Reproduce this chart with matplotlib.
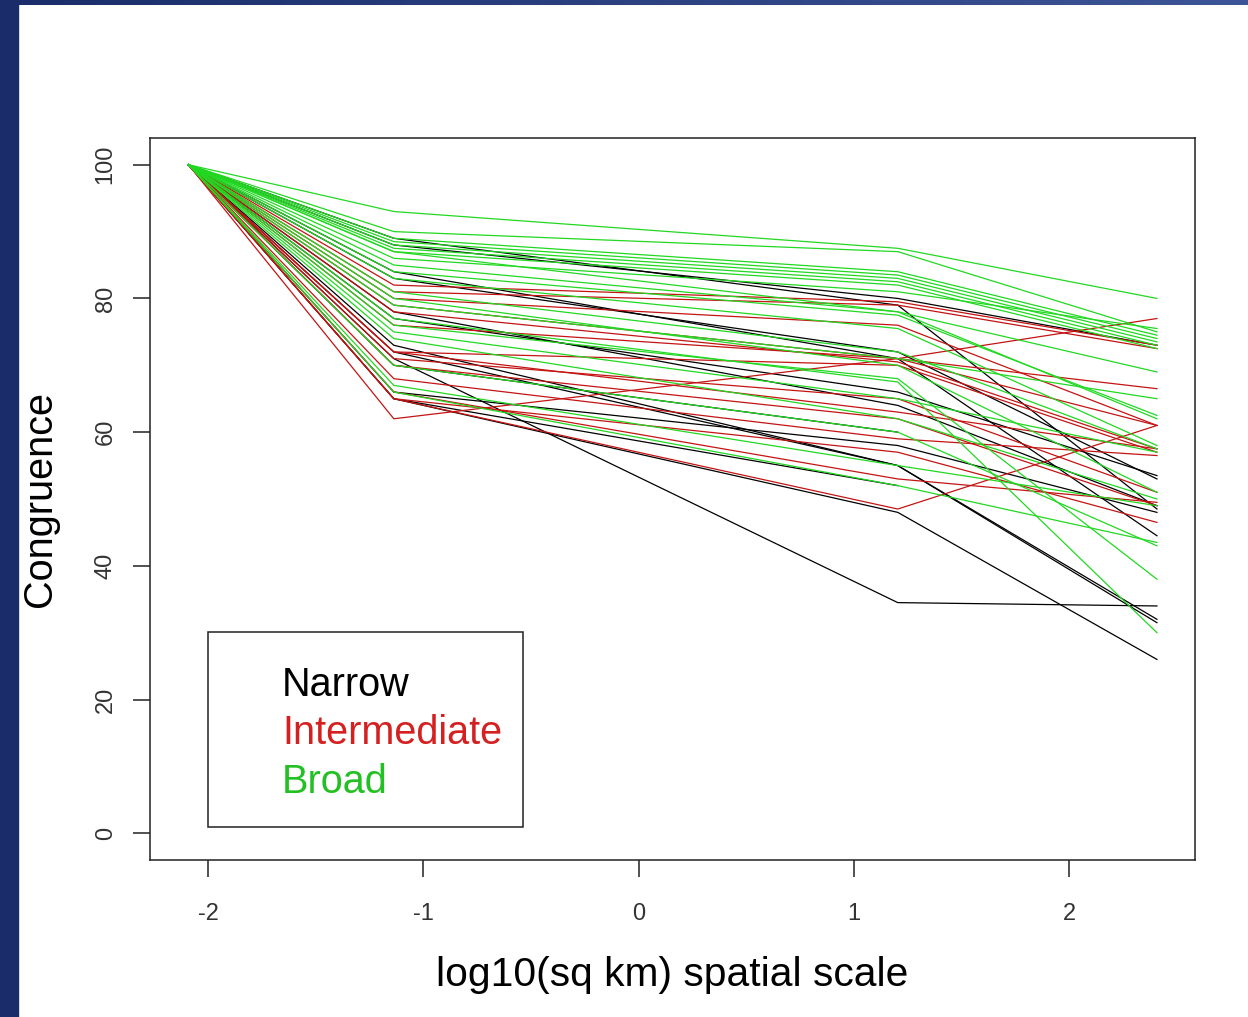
import numpy as np
import matplotlib.pyplot as plt
from matplotlib.patches import Rectangle
from matplotlib.colors import LinearSegmentedColormap

plt.rcParams['font.family'] = ['Liberation Sans', 'DejaVu Sans']
plt.rcParams['axes.unicode_minus'] = False

# cell areas (sq km) -> log10 spatial scale
areas = [0.0081, 0.0729, 16, 256]
scale = np.log10(areas)

# congruence (%) at each scale; first scale is always 100
narrow = [
    [100, 89, 79, 48.5],
    [100, 88, 80, 73],
    [100, 84, 71, 44.5],
    [100, 83, 72, 53],
    [100, 78, 64, 49],
    [100, 73, 55, 32],
    [100, 72, 55, 31.5],
    [100, 71, 34.5, 34],
    [100, 65, 48, 26],
    [100, 65, 52, np.nan],
    [100, 66, 58, 48],
    [100, 70, 60, np.nan],
    [100, 77, 66, 53.5],
]
intermediate = [
    [100, 82, 79.5, 73],
    [100, 81, 79, 72.5],
    [100, 79, 71, 66.5],
    [100, 78, 70.5, 57.5],
    [100, 76, 71, 61],
    [100, 72, 70, 57],
    [100, 71, 65, 51],
    [100, 70, 62, 49],
    [100, 68, 59, 56.5],
    [100, 65, 57, 46.5],
    [100, 62, 71, 77],
    [100, 65, 48.5, 61],
    [100, 66, 53, 49.5],
    [100, 80, 76, 61],
    [100, 72, 63, 57.5],
]
broad = [
    [100, 93, 87.5, 80],
    [100, 90, 87, 75],
    [100, 89, 84, 74.5],
    [100, 88.5, 83.5, 74],
    [100, 88, 83, 73.5],
    [100, 87.5, 82.5, 73],
    [100, 87, 82, 72.5],
    [100, 86, 81, 75.5],
    [100, 85, 78, 69],
    [100, 84, 77.5, 62.5],
    [100, 83, 75.5, 58],
    [100, 81, 72, 57.5],
    [100, 80, 70, 51],
    [100, 77, 67.5, 30],
    [100, 76, 68, 38],
    [100, 75, 65, 57],
    [100, 74, 62, 50],
    [100, 70, 60, 43],
    [100, 67, 55, 49],
    [100, 66, 52, 43.5],
    [100, 79, 71, 65],
    [100, 87, 78, 62],
]

group_names = ['Narrow', 'Intermediate', 'Broad']
group_colors = ['black', '#c41414', '#22d822']
text_colors = ['black', '#d42020', '#22c022']

fig = plt.figure(figsize=(12.48, 10.17), dpi=100)

# slide frame (dark blue strip on the left and top)
fig.patches.append(Rectangle((0, 0), 18 / 1248, 1, transform=fig.transFigure,
                             color='#1a2d6a', zorder=0))
top = fig.add_axes([0, 1 - 5 / 1017, 1, 5 / 1017])
grad = np.linspace(0, 1, 256).reshape(1, -1)
cm = LinearSegmentedColormap.from_list('frame', ['#1a2d6a', '#3c5596'])
top.imshow(grad, aspect='auto', cmap=cm, extent=[0, 1, 0, 1])
top.axis('off')

ax = fig.add_axes([150 / 1248, 157 / 1017, 1045 / 1248, 722 / 1017])

for data, col in zip([narrow, intermediate, broad], group_colors):
    for row in data:
        ax.plot(scale, row, color=col, lw=0.9)

ax.set_xlim(-2.27, 2.585)
ax.set_ylim(-4, 104)
ax.set_xticks([-2, -1, 0, 1, 2])
ax.set_yticks([0, 20, 40, 60, 80, 100])
ax.tick_params(direction='out', length=12, width=1.1, color='#222222',
               labelsize=17, labelcolor='#333333')
ax.tick_params(axis='x', pad=19)
ax.tick_params(axis='y', pad=12)
for lab in ax.get_yticklabels():
    lab.set_rotation(90)
    lab.set_va('center')
for s in ax.spines.values():
    s.set_linewidth(1.1)
    s.set_color('#222222')

ax.set_xlabel('log10(sq km) spatial scale', fontsize=29.3)
ax.set_ylabel('Congruence', fontsize=28.5)
ax.xaxis.set_label_coords(0.5, -0.133)
ax.yaxis.set_label_coords(-0.087, 0.5)

# legend box drawn R-style (text only, no symbols)
ax.add_patch(Rectangle((58 / 1045, 33 / 722), 315 / 1045, 195 / 722,
                       transform=ax.transAxes, fill=False, lw=1.1,
                       edgecolor='#222222'))
for i, (name, col) in enumerate(zip(group_names, text_colors)):
    ax.text(132 / 1045, (175 - 48.5 * i) / 722, name, transform=ax.transAxes,
            fontsize=28.5, color=col, ha='left', va='center')

fig.savefig('out.png', dpi=100, facecolor='white')
